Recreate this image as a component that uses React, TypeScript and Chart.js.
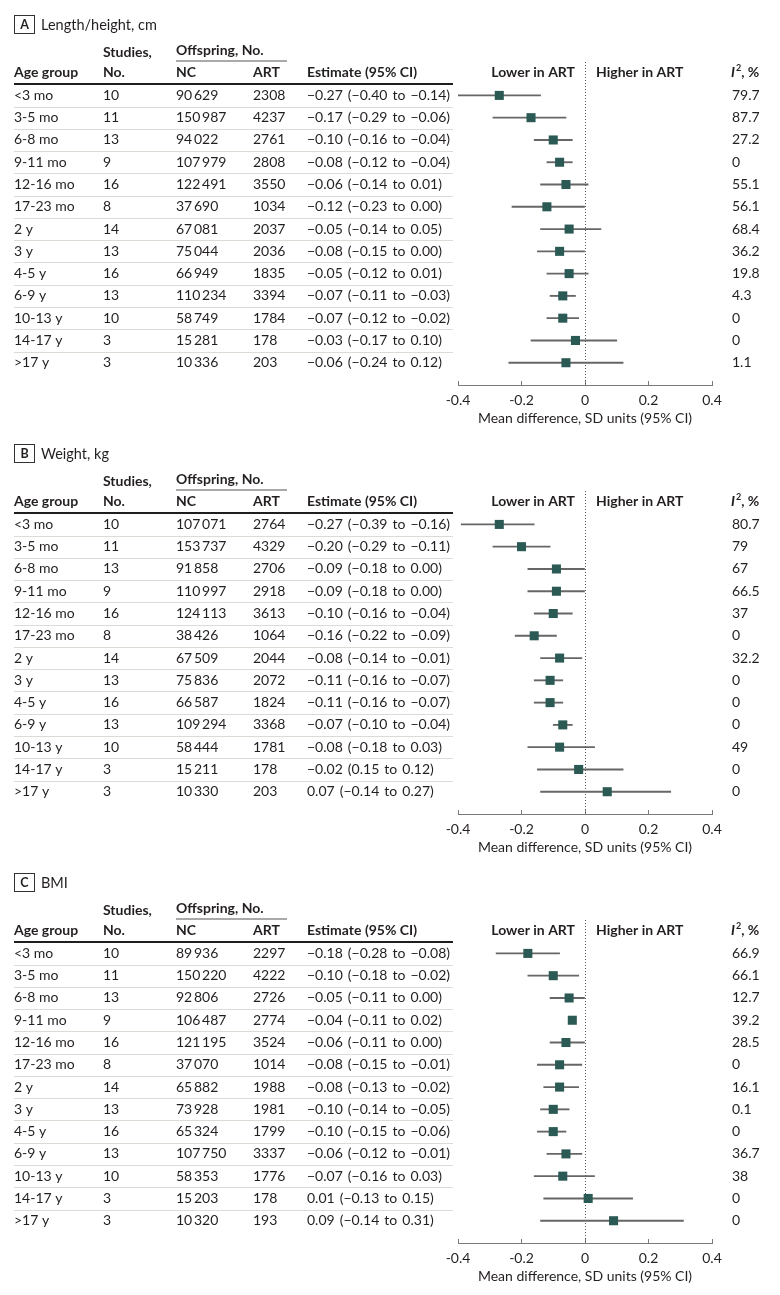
import React, { useEffect, useRef } from "react";
import { Chart, registerables } from "chart.js";

Chart.register(...registerables);

// ---------- shared data ----------
const ageGroups = ["<3 mo", "3-5 mo", "6-8 mo", "9-11 mo", "12-16 mo", "17-23 mo", "2 y", "3 y", "4-5 y", "6-9 y", "10-13 y", "14-17 y", ">17 y"];
const studies = [10, 11, 13, 9, 16, 8, 14, 13, 16, 13, 10, 3, 3];
const xTickValues = [-0.4, -0.2, 0, 0.2, 0.4];
const xAxisTitle = "Mean difference, SD units (95% CI)";

// ---------- A: Length/height ----------
const ncA = [90629, 150987, 94022, 107979, 122491, 37690, 67081, 75044, 66949, 110234, 58749, 15281, 10336];
const artA = [2308, 4237, 2761, 2808, 3550, 1034, 2037, 2036, 1835, 3394, 1784, 178, 203];
const estA = [-0.27, -0.17, -0.10, -0.08, -0.06, -0.12, -0.05, -0.08, -0.05, -0.07, -0.07, -0.03, -0.06];
const loA = [-0.40, -0.29, -0.16, -0.12, -0.14, -0.23, -0.14, -0.15, -0.12, -0.11, -0.12, -0.17, -0.24];
const hiA = [-0.14, -0.06, -0.04, -0.04, 0.01, 0.00, 0.05, 0.00, 0.01, -0.03, -0.02, 0.10, 0.12];
const i2A = ["79.7", "87.7", "27.2", "0", "55.1", "56.1", "68.4", "36.2", "19.8", "4.3", "0", "0", "1.1"];
const estTextA = [
  "−0.27 (−0.40 to −0.14)", "−0.17 (−0.29 to −0.06)", "−0.10 (−0.16 to −0.04)", "−0.08 (−0.12 to −0.04)",
  "−0.06 (−0.14 to 0.01)", "−0.12 (−0.23 to 0.00)", "−0.05 (−0.14 to 0.05)", "−0.08 (−0.15 to 0.00)",
  "−0.05 (−0.12 to 0.01)", "−0.07 (−0.11 to −0.03)", "−0.07 (−0.12 to −0.02)", "−0.03 (−0.17 to 0.10)",
  "−0.06 (−0.24 to 0.12)",
];

// ---------- B: Weight ----------
const ncB = [107071, 153737, 91858, 110997, 124113, 38426, 67509, 75836, 66587, 109294, 58444, 15211, 10330];
const artB = [2764, 4329, 2706, 2918, 3613, 1064, 2044, 2072, 1824, 3368, 1781, 178, 203];
const estB = [-0.27, -0.20, -0.09, -0.09, -0.10, -0.16, -0.08, -0.11, -0.11, -0.07, -0.08, -0.02, 0.07];
const loB = [-0.39, -0.29, -0.18, -0.18, -0.16, -0.22, -0.14, -0.16, -0.16, -0.10, -0.18, -0.15, -0.14];
const hiB = [-0.16, -0.11, 0.00, 0.00, -0.04, -0.09, -0.01, -0.07, -0.07, -0.04, 0.03, 0.12, 0.27];
const i2B = ["80.7", "79", "67", "66.5", "37", "0", "32.2", "0", "0", "0", "49", "0", "0"];
const estTextB = [
  "−0.27 (−0.39 to −0.16)", "−0.20 (−0.29 to −0.11)", "−0.09 (−0.18 to 0.00)", "−0.09 (−0.18 to 0.00)",
  "−0.10 (−0.16 to −0.04)", "−0.16 (−0.22 to −0.09)", "−0.08 (−0.14 to −0.01)", "−0.11 (−0.16 to −0.07)",
  "−0.11 (−0.16 to −0.07)", "−0.07 (−0.10 to −0.04)", "−0.08 (−0.18 to 0.03)", "−0.02 (0.15 to 0.12)",
  "0.07 (−0.14 to 0.27)",
];

// ---------- C: BMI ----------
const ncC = [89936, 150220, 92806, 106487, 121195, 37070, 65882, 73928, 65324, 107750, 58353, 15203, 10320];
const artC = [2297, 4222, 2726, 2774, 3524, 1014, 1988, 1981, 1799, 3337, 1776, 178, 193];
const estC = [-0.18, -0.10, -0.05, -0.04, -0.06, -0.08, -0.08, -0.10, -0.10, -0.06, -0.07, 0.01, 0.09];
const loC = [-0.28, -0.18, -0.11, null, -0.11, -0.15, -0.13, -0.14, -0.15, -0.12, -0.16, -0.13, -0.14];
const hiC = [-0.08, -0.02, 0.00, null, 0.00, -0.01, -0.02, -0.05, -0.06, -0.01, 0.03, 0.15, 0.31];
const i2C = ["66.9", "66.1", "12.7", "39.2", "28.5", "0", "16.1", "0.1", "0", "36.7", "38", "0", "0"];
const estTextC = [
  "−0.18 (−0.28 to −0.08)", "−0.10 (−0.18 to −0.02)", "−0.05 (−0.11 to 0.00)", "−0.04 (−0.11 to 0.02)",
  "−0.06 (−0.11 to 0.00)", "−0.08 (−0.15 to −0.01)", "−0.08 (−0.13 to −0.02)", "−0.10 (−0.14 to −0.05)",
  "−0.10 (−0.15 to −0.06)", "−0.06 (−0.12 to −0.01)", "−0.07 (−0.16 to 0.03)", "0.01 (−0.13 to 0.15)",
  "0.09 (−0.14 to 0.31)",
];

type Panel = {
  letter: string;
  title: string;
  nc: number[];
  art: number[];
  est: number[];
  lo: (number | null)[];
  hi: (number | null)[];
  i2: string[];
  estText: string[];
};

const panels: Panel[] = [
  { letter: "A", title: "Length/height, cm", nc: ncA, art: artA, est: estA, lo: loA, hi: hiA, i2: i2A, estText: estTextA },
  { letter: "B", title: "Weight, kg", nc: ncB, art: artB, est: estB, lo: loB, hi: hiB, i2: i2B, estText: estTextB },
  { letter: "C", title: "BMI", nc: ncC, art: artC, est: estC, lo: loC, hi: hiC, i2: i2C, estText: estTextC },
];

// ---------- styles ----------
const FAMILY = "Lato, 'Open Sans', sans-serif";
const TEXT = "#231f20";
const SQUARE = "#2b5954";
const WHISKER = "#666666";
const PANEL_H = 429;
const FS = 14;

const fmtN = (n: number) =>
  n >= 10000 ? String(n).replace(/(\d)(?=(\d{3})+$)/g, "$1\u2009") : String(n);

const tickLabel = (v: number) => {
  if (Math.abs(v) < 1e-9) return "0";
  return v.toFixed(1);
};

function makeTablePlugin(p: Panel) {
  return {
    id: "forestTable",
    beforeDatasetsDraw(chart: any) {
      const { ctx, chartArea, scales } = chart;
      const xs = scales.x;
      const ys = scales.y;
      const L = 14;
      const R = 453;
      const line = (x1: number, y1: number, x2: number, y2: number) => {
        ctx.beginPath();
        ctx.moveTo(x1, y1);
        ctx.lineTo(x2, y2);
        ctx.stroke();
      };
      const text = (s: string, x: number, y: number, weight = "400", size = FS, align: CanvasTextAlign = "left", style = "normal") => {
        ctx.font = `${style} ${weight} ${size}px ${FAMILY}`;
        ctx.textAlign = align;
        ctx.fillText(s, x, y);
        return ctx.measureText(s).width;
      };
      ctx.save();
      ctx.textBaseline = "middle";
      ctx.fillStyle = TEXT;

      // row separators
      ctx.strokeStyle = "#dcdcd6";
      ctx.lineWidth = 1;
      for (let i = 0; i < ageGroups.length - 1; i++) {
        const y = Math.round(ys.getPixelForValue(i + 0.5)) + 0.5;
        line(L, y, R, y);
      }
      // header thick rule
      ctx.strokeStyle = "#1e1e1e";
      ctx.lineWidth = 2;
      line(L, 84, R, 84);
      // offspring underline
      ctx.strokeStyle = "#8c8c8c";
      ctx.lineWidth = 1.5;
      line(176, 61, 287, 61);

      // dotted zero line
      const x0 = Math.round(xs.getPixelForValue(0)) + 0.5;
      ctx.strokeStyle = "#555555";
      ctx.lineWidth = 1;
      ctx.setLineDash([1, 2]);
      line(x0, chartArea.top, x0, chartArea.bottom);
      ctx.setLineDash([]);

      // panel label box
      ctx.strokeStyle = "#333333";
      ctx.lineWidth = 1;
      ctx.strokeRect(14.5, 15.5, 20, 18);
      text(p.letter, 24.5, 25, "700", 12.5, "center");
      text(p.title, 41, 25, "400", 14.5);

      // headers
      text("Studies,", 103, 52, "700");
      text("Offspring, No.", 176, 50.5, "700");
      const hy = 72;
      text("Age group", L, hy, "700");
      text("No.", 103, hy, "700");
      text("NC", 176, hy, "700");
      text("ART", 253, hy, "700");
      text("Estimate (95% CI)", 307, hy, "700");
      text("Lower in ART", 575, hy, "700", FS, "right");
      text("Higher in ART", 596, hy, "700");
      let ix = 731;
      ix += text("I", ix, hy, "700", FS, "left", "italic");
      ix += 1;
      ix += text("2", ix, hy - 4, "700", 9);
      text(", %", ix, hy, "700");

      // rows
      for (let i = 0; i < ageGroups.length; i++) {
        const y = ys.getPixelForValue(i);
        text(ageGroups[i], L, y);
        text(String(studies[i]), 103, y);
        text(fmtN(p.nc[i]), 176, y);
        text(fmtN(p.art[i]), 253, y);
        (ctx as any).wordSpacing = "1.5px";
        text(p.estText[i], 307, y);
        (ctx as any).wordSpacing = "0px";
        text(p.i2[i], 732, y);
      }
      ctx.restore();
    },
  };
}

function PanelChart({ panel, top }: { panel: Panel; top: number }) {
  const ref = useRef<HTMLCanvasElement>(null);
  useEffect(() => {
    if (!ref.current) return;
    const ci = ageGroups
      .map((_, i) => ({ y: i, lo: panel.lo[i], hi: panel.hi[i] }))
      .filter((d) => d.lo !== null && d.hi !== null)
      .map((d) => ({ y: d.y, x: [d.lo as number, d.hi as number] }));
    const pts = panel.est.map((v, i) => ({ x: v, y: i }));
    const chart = new Chart(ref.current, {
      type: "scatter",
      data: {
        datasets: [
          {
            type: "bar",
            indexAxis: "y",
            data: ci as any,
            backgroundColor: WHISKER,
            borderWidth: 0,
            barThickness: 1.2,
            grouped: false,
            order: 2,
          } as any,
          {
            type: "scatter",
            data: pts,
            pointStyle: "rect",
            pointRadius: 6.4,
            pointHoverRadius: 6.4,
            backgroundColor: SQUARE,
            borderColor: SQUARE,
            borderWidth: 0,
            order: 1,
          } as any,
        ],
      },
      options: {
        animation: false,
        responsive: false,
        maintainAspectRatio: false,
        events: [],
        layout: { padding: { left: 458, right: 68, top: 62, bottom: 0 } },
        plugins: { legend: { display: false }, tooltip: { enabled: false } },
        scales: {
          x: {
            type: "linear",
            position: "bottom",
            min: -0.4,
            max: 0.4,
            offset: false,
            afterBuildTicks: (s: any) => {
              s.ticks = xTickValues.map((v) => ({ value: v }));
            },
            afterFit: (s: any) => {
              s.height = 44;
            },
            ticks: {
              callback: (v: any) => tickLabel(Number(v)),
              padding: 11,
              color: TEXT,
              font: { family: FAMILY, size: FS },
              maxRotation: 0,
              autoSkip: false,
            },
            grid: {
              offset: false,
              drawOnChartArea: false,
              drawTicks: true,
              tickLength: -4,
              tickColor: "#7a7a7a",
              tickWidth: 1,
            },
            border: { display: true, color: "#7a7a7a", width: 1 },
            title: {
              display: true,
              text: xAxisTitle,
              color: TEXT,
              font: { family: FAMILY, size: FS },
              padding: { top: 0, bottom: 2 },
            },
          } as any,
          y: {
            type: "linear",
            reverse: true,
            min: -1.5,
            max: 13,
            offset: false,
            grid: { offset: false },
            display: false,
          } as any,
        },
      },
      plugins: [makeTablePlugin(panel)],
    });
    return () => chart.destroy();
  }, [panel]);
  return (
    <canvas
      ref={ref}
      width={780}
      height={PANEL_H}
      style={{ position: "absolute", left: 0, top, width: 780, height: PANEL_H, display: "block" }}
    />
  );
}

export default function App() {
  return (
    <div style={{ position: "absolute", left: 0, top: 0, width: 780, height: 1295, background: "#ffffff", overflow: "hidden" }}>
      {panels.map((p, k) => (
        <PanelChart key={p.letter} panel={p} top={k * PANEL_H} />
      ))}
    </div>
  );
}
